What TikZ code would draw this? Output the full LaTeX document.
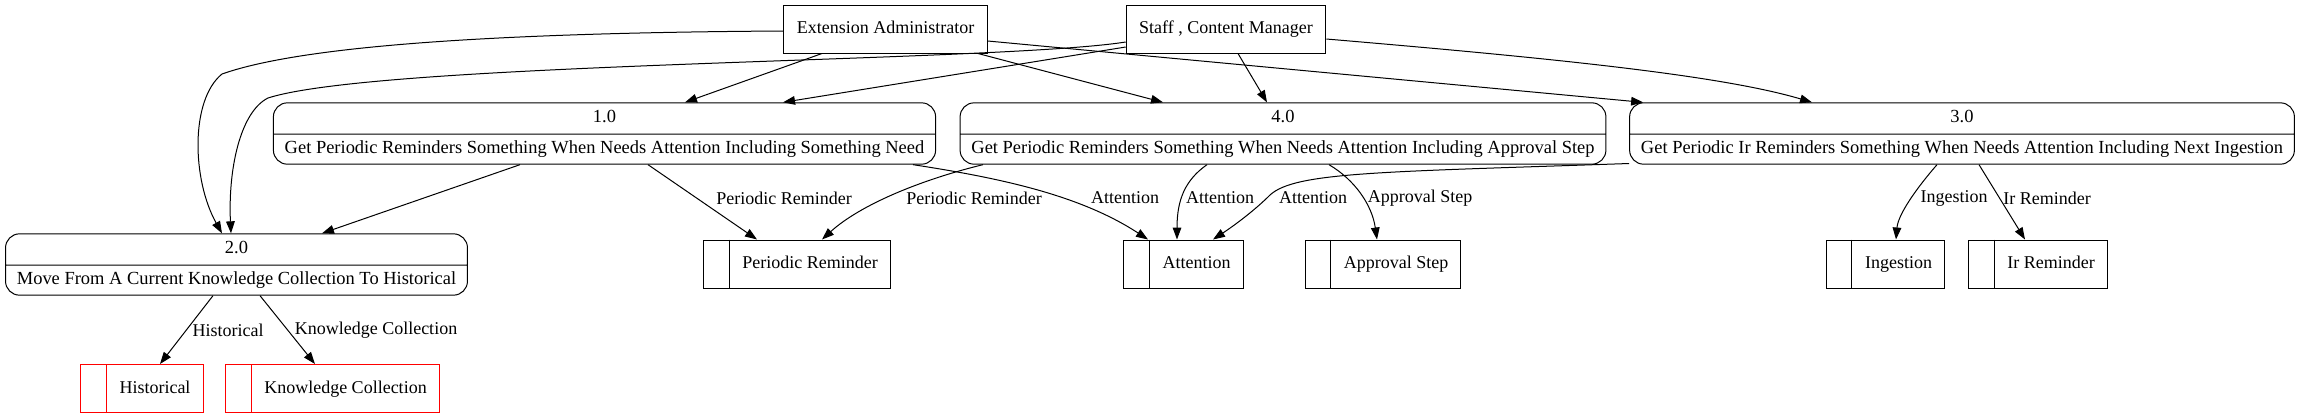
\documentclass[tikz,border=0pt]{standalone}
\usepackage{fontspec}
\setmainfont{Liberation Serif}
\usetikzlibrary{arrows.meta}
\usetikzlibrary{calc}
\usetikzlibrary{shapes.multipart}

\begin{document}
\begin{tikzpicture}[x=0.75pt, y=-0.75pt, line width=0.75pt,
    every node/.style={font=\fontsize{13.5}{16}\selectfont},
    extent/.style={draw, rectangle, minimum height=36pt, inner xsep=9.75pt, text height=10pt, text depth=3pt},
    proc/.style={draw, rectangle split, rectangle split parts=2, rounded corners=10.5pt,
      font=\fontsize{13.85}{16}\selectfont,
      inner xsep=8.5pt, inner ysep=4.6pt, text height=10pt, text depth=3.5pt},
    store/.style={draw=#1, rectangle, minimum height=36pt, inner xsep=9.4pt, text height=10pt, text depth=3pt,
      execute at begin node={\hspace*{19.5pt}},
      append after command={([xshift=19.5pt]\tikzlastnode.north west) edge[draw=#1] ([xshift=19.5pt]\tikzlastnode.south west)}},
    store/.default=black,
    flow/.style={-{Triangle[length=9pt, width=6.5pt]}},
    lbl/.style={inner sep=1pt}]
    \useasboundingbox (0,0) rectangle (2299,419);

    \node[extent] (ea) at (885.5,29) {Extension Administrator};
    \node[extent] (staff) at (1226,29) {Staff , Content Manager};

    \node[proc] (1) at (604.5,133.5) {1.0 \nodepart{two} Get Periodic Reminders Something When Needs Attention Including Something Need};
    \node[proc] (4) at (1283,133.5) {4.0 \nodepart{two} Get Periodic Reminders Something When Needs Attention Including Approval Step};
    \node[proc] (3) at (1962,133.5) {3.0 \nodepart{two} Get Periodic Ir Reminders Something When Needs Attention Including Next Ingestion};
    \node[proc] (2) at (236.5,264.5) {2.0 \nodepart{two} Move From A Current Knowledge Collection To Historical};

    \node[store] (reminder) at (797,264) {Periodic Reminder};
    \node[store] (attention) at (1183.5,264) {Attention};
    \node[store] (approval) at (1383,264) {Approval Step};
    \node[store] (ingestion) at (1885.5,264) {Ingestion};
    \node[store] (irreminder) at (2038,264) {Ir Reminder};
    \node[store=red] (historical) at (142,388.5) {Historical};
    \node[store=red] (knowledge) at (332.5,388.5) {Knowledge Collection};

    % externals
    \draw[flow] ($(ea.west)+(0,2)$) .. controls (450,33) and (290,50) .. (222,74)
      .. controls (190,100) and (192,180) .. ($(2.north)+(-14.5,0)$);
    \draw[flow] ($(staff.west)+(0,13)$) .. controls (1000,62) and (380,62) .. (268,98)
      .. controls (240,112) and (228,170) .. ($(2.north)+(-5.5,0)$);
    \draw[flow] ($(ea.south)+(-63.5,0)$) -- ($(1.north)+(80.5,0)$);
    \draw[flow] ($(staff.west)+(0,18)$) -- ($(1.north)+(178.5,0)$);
    \draw[flow] ($(ea.south)+(92.5,0)$) -- ($(4.north)+(-120,0)$);
    \draw[flow] ($(ea.east)+(0,12)$) -- ($(3.north west)+(14,0)$);
    \draw[flow] ($(staff.south)+(12,0)$) -- ($(4.north)+(-16,0)$);
    \draw[flow] ($(staff.east)+(0,10)$) .. controls (1550,58) and (1720,75) .. ($(3.north)+(-150,0)$);

    % processes
    \draw[flow] ($(1.south)+(-84.5,0)$) -- ($(2.north)+(85.5,0)$);
    \draw[flow] ($(1.south)+(43.5,0)$) -- ($(reminder.north)+(-40,0)$)
      node[lbl] at (784,198) {Periodic Reminder};
    \draw[flow] ($(4.south)+(-300,0)$) .. controls (920,180) and (860,205) .. ($(reminder.north)+(25,0)$)
      node[lbl] at (974,198) {Periodic Reminder};
    \draw[flow] ($(1.south)+(308.5,0)$) .. controls (1000,178) and (1080,195) .. ($(attention.north)+(-35.5,0)$)
      node[lbl] at (1125,198) {Attention};
    \draw[flow] ($(4.south)+(-76,0)$) .. controls (1185,180) and (1177,200) .. ($(attention.north)+(-6.5,0)$)
      node[lbl] at (1220,198) {Attention};
    \draw[flow] ($(3.west)+(0,30)$) .. controls (1380,172) and (1295,172) .. (1270,195)
      .. controls (1255,210) and (1235,225) .. ($(attention.north)+(29.5,0)$)
      node[lbl] at (1313,198) {Attention};
    \draw[flow] ($(4.south)+(46,0)$) .. controls (1355,180) and (1372,205) .. ($(approval.north)+(-6,0)$)
      node[lbl] at (1420,198) {Approval Step};
    \draw[flow] ($(3.south)+(-25,0)$) .. controls (1915,190) and (1898,215) .. ($(ingestion.north)+(10.5,0)$)
      node[lbl] at (1954,198) {Ingestion};
    \draw[flow] ($(3.south)+(17,0)$) -- ($(irreminder.north)+(-13,0)$)
      node[lbl] at (2047,198) {Ir Reminder};
    \draw[flow] ($(2.south)+(-23.5,0)$) -- ($(historical.north)+(18,0)$)
      node[lbl] at (228,330) {Historical};
    \draw[flow] ($(2.south)+(23.5,0)$) -- ($(knowledge.north)+(-17.5,0)$)
      node[lbl] at (376,330) {Knowledge Collection};
\end{tikzpicture}
\end{document}
